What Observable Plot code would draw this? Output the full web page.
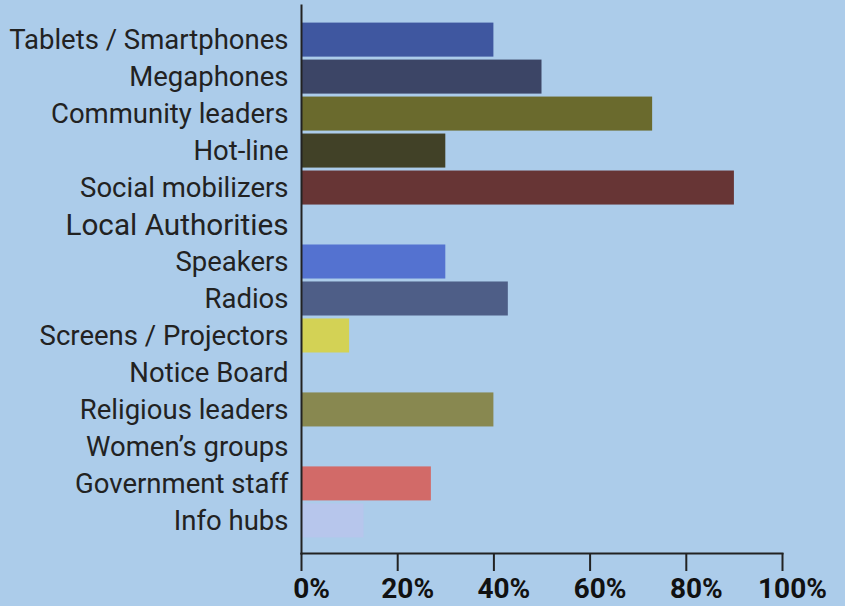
<!DOCTYPE html>
<html><head>
<meta charset="utf-8">
<script src="https://cdn.jsdelivr.net/npm/d3@7"></script>
<script src="https://cdn.jsdelivr.net/npm/@observablehq/plot@0.6"></script>
<style>
html,body{margin:0;padding:0;background:#acccea;}
</style>
</head><body>
<div id="chart"></div>
<script>
const categories = ["Tablets / Smartphones", "Megaphones", "Community leaders", "Hot-line", "Social mobilizers", "Local Authorities", "Speakers", "Radios", "Screens / Projectors", "Notice Board", "Religious leaders", "Women’s groups", "Government staff", "Info hubs"];
const values = [40, 50, 73, 30, 90, 0, 30, 43, 10, 0, 40, 0, 27, 13];
const colors = ["#3f57a0", "#3c4566", "#6a6a2d", "#414127", "#673535", "#acccea", "#5472d0", "#4e5e87", "#d3d255", "#acccea", "#888850", "#acccea", "#d26a68", "#b7c6ec"];
const xTicks = [0, 20, 40, 60, 80, 100];
const xTickLabels = ["0%", "20%", "40%", "60%", "80%", "100%"];

const data = categories.map((c, i) => ({category: c, value: values[i], color: colors[i]}));

const chart = Plot.plot({
  width: 845,
  height: 606,
  marginLeft: 301,
  marginRight: 63,
  marginTop: 5,
  marginBottom: 53,
  style: {fontFamily: "Roboto", background: "#acccea", color: "#222"},
  x: {domain: [0, 100], axis: null},
  y: {domain: categories, axis: null, round: false, paddingInner: 0.08, paddingOuter: 0.07, insetTop: 15, insetBottom: 13},
  marks: [
    Plot.barX(data, {x: "value", y: "category", fill: "color"}),
    Plot.frame({anchor: "left", stroke: "#222", strokeWidth: 2}),
    Plot.frame({anchor: "bottom", stroke: "#222", strokeWidth: 2}),
    Plot.axisX({ticks: xTicks, tickSize: 18, strokeWidth: 2, stroke: "#222", tickFormat: () => "", label: null}),
    Plot.axisX({ticks: xTicks, tickSize: 0, tickPadding: 25,
      tickFormat: (d) => xTickLabels[xTicks.indexOf(d)], fontSize: 28, fontWeight: "bold", dx: 10, label: null, fill: "#111"}),
    Plot.text(categories, {y: (d) => d, frameAnchor: "left", textAnchor: "end", dx: -13,
      fontSize: (d) => d === "Local Authorities" ? 29.7 : 27.5, fill: "#222"})
  ]
});
document.getElementById("chart").appendChild(chart);
</script>
</body></html>
